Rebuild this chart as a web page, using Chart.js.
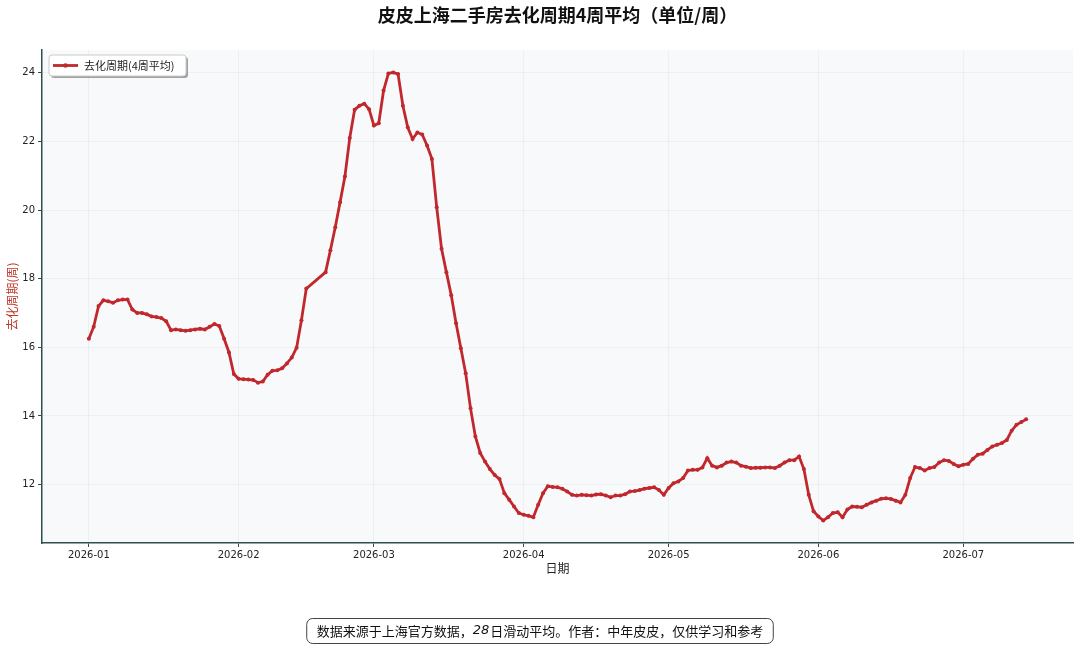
<!DOCTYPE html>
<html>
<head>
<meta charset="utf-8">
<script src="https://cdn.jsdelivr.net/npm/chart.js@4.4.1/dist/chart.umd.min.js"></script>
<style>
  html, body { margin: 0; padding: 0; background: #fff; }
  #wrap { width: 1080px; height: 645px; }
</style>
</head>
<body>
<div id="wrap"><canvas id="chart" width="1080" height="645"></canvas></div>
<script>
// daily values from 2026-01-01, null = no data (holiday gap)
const startDate = '2026-01-01';
const jan = [16.25, 16.6, 17.2, 17.37, 17.34, 17.3, 17.37, 17.39, 17.39, 17.1, 17.0, 17.0, 16.96, 16.9, 16.88, 16.85,
  16.76, 16.5, 16.52, 16.5, 16.48, 16.5, 16.52, 16.54, 16.52, 16.6, 16.68, 16.62, 16.25, 15.85, 15.22];
const feb = [15.08, 15.07, 15.06, 15.05, 14.97, 15.0, 15.2, 15.32, 15.33, 15.39, 15.53, 15.7, 15.99, 16.79, 17.71,
  null, null, null, 18.19, 18.83, 19.5, 20.23, 20.98, 22.1, 22.92, 23.04, 23.1, 22.94];
const mar = [22.46, 22.53, 23.48, 23.98, 24.01, 23.96, 23.04, 22.41, 22.07, 22.26, 22.2, 21.88, 21.49, 20.08, 18.87,
  18.19, 17.52, 16.7, 15.97, 15.24, 14.22, 13.4, 12.92, 12.67, 12.45, 12.28, 12.16, 11.75, 11.56, 11.36, 11.17];
const apr = [11.12, 11.09, 11.05, 11.41, 11.75, 11.95, 11.93, 11.92, 11.88, 11.8, 11.7, 11.68, 11.7, 11.69, 11.68,
  11.71, 11.72, 11.68, 11.63, 11.68, 11.68, 11.72, 11.8, 11.81, 11.84, 11.88, 11.9, 11.92, 11.84, 11.7];
const may = [11.9, 12.04, 12.09, 12.19, 12.41, 12.43, 12.43, 12.5, 12.77, 12.55, 12.5, 12.55, 12.64, 12.67, 12.64,
  12.55, 12.52, 12.48, 12.49, 12.49, 12.5, 12.5, 12.48, 12.55, 12.64, 12.71, 12.71, 12.82, 12.45, 11.7, 11.22];
const jun = [11.07, 10.95, 11.05, 11.17, 11.19, 11.05, 11.27, 11.36, 11.35, 11.34, 11.41, 11.48, 11.53, 11.59, 11.6,
  11.58, 11.53, 11.48, 11.7, 12.19, 12.51, 12.48, 12.41, 12.48, 12.51, 12.64, 12.71, 12.69, 12.6, 12.53];
const jul = [12.58, 12.6, 12.75, 12.87, 12.9, 13.01, 13.11, 13.16, 13.21, 13.3, 13.57, 13.74, 13.82, 13.9];

const monthTicks = ['2026-01', '2026-02', '2026-03', '2026-04', '2026-05', '2026-06', '2026-07'];
const yTicks = [12, 14, 16, 18, 20, 22, 24];

const seriesName = '去化周期(4周平均)';
const titleText = '皮皮上海二手房去化周期4周平均（单位/周）';
const noteBefore = '数据来源于上海官方数据，';
const noteItalic = '28';
const noteAfter = '日滑动平均。作者：中年皮皮，仅供学习和参考';

const LINE = '#c0282d';
const CJK = '"Noto Sans CJK SC", "DejaVu Sans", sans-serif';
const TICKF = '"DejaVu Sans", sans-serif';
const GRID = 'rgba(200,208,215,0.22)';

// day number relative to start date
const dayOf = (s) => {
  const [y, m, d] = s.split('-').map(Number);
  const [y0, m0, d0] = startDate.split('-').map(Number);
  return Math.round((Date.UTC(y, m - 1, d) - Date.UTC(y0, m0 - 1, d0)) / 86400000);
};

const values = [].concat(jan, feb, mar, apr, may, jun, jul);
const points = values.map((v, i) => ({ x: i, y: v }));

// matplotlib-like 5% margins
const lastDay = values.length - 1;
const xPad = lastDay * 0.05;
const valid = values.filter(v => v !== null);
const vMin = Math.min(...valid), vMax = Math.max(...valid);
const yPad = (vMax - vMin) * 0.05;

const decor = {
  id: 'decor',
  beforeDraw(chart) {
    const { ctx, chartArea: a } = chart;
    ctx.save();
    ctx.fillStyle = '#f8f9fa';
    ctx.fillRect(a.left, a.top, a.right - a.left, a.bottom - a.top);
    ctx.restore();
  },
  afterDraw(chart) {
    const { ctx, chartArea: a } = chart;
    ctx.save();

    // title
    ctx.fillStyle = '#111';
    ctx.font = 'bold 18px ' + CJK;
    ctx.textAlign = 'center';
    ctx.textBaseline = 'middle';
    ctx.fillText(titleText, (a.left + a.right) / 2, 15);

    // legend box with shadow
    const lx = 49, ly = 55, lw = 137, lh = 21;
    ctx.fillStyle = 'rgba(0,0,0,0.35)';
    ctx.beginPath(); ctx.roundRect(lx + 2, ly + 2, lw, lh, 3); ctx.fill();
    ctx.fillStyle = '#ffffff';
    ctx.strokeStyle = '#cccccc';
    ctx.lineWidth = 1;
    ctx.beginPath(); ctx.roundRect(lx, ly, lw, lh, 3); ctx.fill(); ctx.stroke();
    ctx.strokeStyle = LINE;
    ctx.lineWidth = 2.8;
    ctx.beginPath(); ctx.moveTo(lx + 4, ly + lh / 2); ctx.lineTo(lx + 29, ly + lh / 2); ctx.stroke();
    ctx.fillStyle = LINE;
    ctx.beginPath(); ctx.arc(lx + 16.5, ly + lh / 2, 2.2, 0, Math.PI * 2); ctx.fill();
    ctx.fillStyle = '#222';
    ctx.font = '11px ' + CJK;
    ctx.textAlign = 'left';
    ctx.fillText(seriesName, lx + 35, ly + lh / 2 + 0.5);

    // footnote box
    ctx.font = '13px ' + CJK;
    const w1 = ctx.measureText(noteBefore).width;
    ctx.font = 'italic 13px ' + TICKF;
    const w2 = ctx.measureText(noteItalic).width + 1;
    ctx.font = '13px ' + CJK;
    const w3 = ctx.measureText(noteAfter).width;
    const total = w1 + w2 + w3;
    const cx = 540, cy = 631;
    const bx = cx - total / 2 - 10, bw = total + 20;
    ctx.fillStyle = '#ffffff';
    ctx.strokeStyle = '#444';
    ctx.lineWidth = 1;
    ctx.beginPath(); ctx.roundRect(bx, 618.5, bw, 25, 6); ctx.fill(); ctx.stroke();
    ctx.fillStyle = '#111';
    let tx = cx - total / 2;
    ctx.fillText(noteBefore, tx, cy); tx += w1;
    ctx.font = 'italic 13px ' + TICKF;
    ctx.fillText(noteItalic, tx, cy); tx += w2;
    ctx.font = '13px ' + CJK;
    ctx.fillText(noteAfter, tx, cy);

    ctx.restore();
  }
};

new Chart(document.getElementById('chart'), {
  type: 'line',
  data: {
    datasets: [{
      label: seriesName,
      data: points,
      borderColor: LINE,
      backgroundColor: LINE,
      borderWidth: 2.8,
      pointRadius: 2,
      pointHoverRadius: 3,
      pointBackgroundColor: LINE,
      pointBorderWidth: 0,
      tension: 0,
      spanGaps: true
    }]
  },
  options: {
    responsive: false,
    animation: false,
    devicePixelRatio: 1,
    layout: { padding: { left: 0, right: 7, top: 50, bottom: 0 } },
    scales: {
      x: {
        type: 'linear',
        min: -xPad,
        max: lastDay + xPad,
        afterFit: (s) => { s.height = 102; },
        afterBuildTicks: (s) => { s.ticks = monthTicks.map(m => ({ value: dayOf(m + '-01') })); },
        ticks: {
          font: { family: TICKF, size: 10 },
          color: '#222',
          padding: 2,
          maxRotation: 0,
          autoSkip: false,
          callback: (v) => {
            const m = monthTicks.find(t => dayOf(t + '-01') === v);
            return m || '';
          }
        },
        grid: { color: GRID, tickColor: '#2f4f4f', tickLength: 4, lineWidth: 1 },
        border: { color: '#2f4f4f', width: 1.5 },
        title: {
          display: true,
          text: '日期',
          font: { family: CJK, size: 12 },
          color: '#222',
          padding: { top: 0, bottom: 69 }
        }
      },
      y: {
        min: vMin - yPad,
        max: vMax + yPad,
        afterFit: (s) => { s.width = 42; },
        afterBuildTicks: (s) => { s.ticks = yTicks.map(v => ({ value: v })); },
        ticks: {
          font: { family: TICKF, size: 10 },
          color: '#222',
          padding: 3
        },
        grid: { color: GRID, tickColor: '#2f4f4f', tickLength: 4, lineWidth: 1 },
        border: { color: '#2f4f4f', width: 1.5 },
        title: {
          display: true,
          text: '去化周期(周)',
          font: { family: CJK, size: 12 },
          color: '#c0392b',
          padding: { top: 5, bottom: 0 }
        }
      }
    },
    plugins: {
      legend: { display: false },
      title: { display: false },
      tooltip: { enabled: false }
    }
  },
  plugins: [decor]
});
</script>
</body>
</html>
